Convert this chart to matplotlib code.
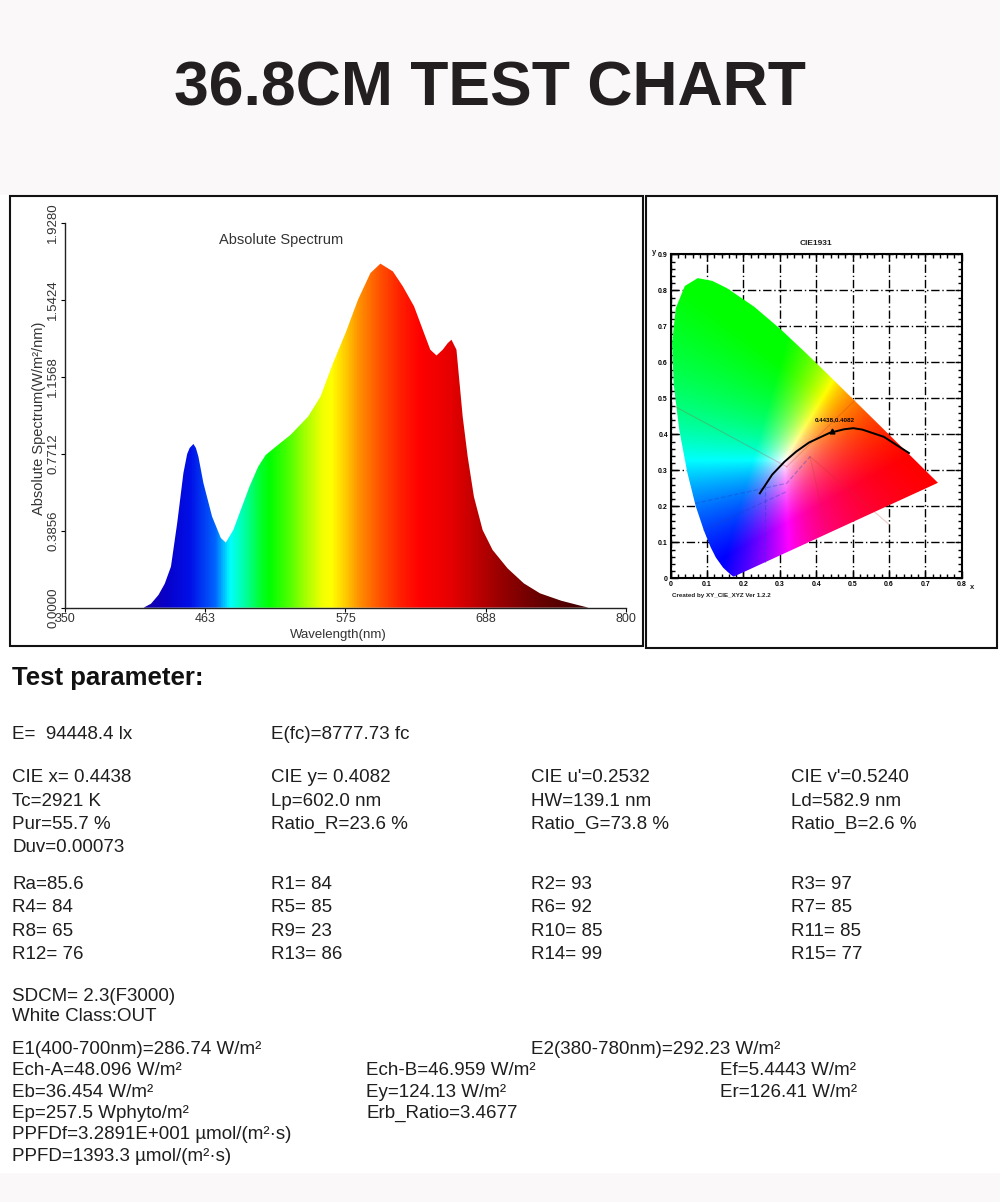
import numpy as np
import matplotlib
matplotlib.use('Agg')
import matplotlib.pyplot as plt
from matplotlib.patches import Rectangle, Polygon
from matplotlib.colors import LinearSegmentedColormap
from matplotlib.ticker import MultipleLocator

plt.rcParams['font.family'] = ['Liberation Sans', 'DejaVu Sans']

W, H = 1000, 1202
INK = '#1e1e1e'

# ---- spectrum ----
wavelength = [413, 419, 425, 430, 435, 440, 445, 448, 450, 453, 455, 457, 461, 468, 475,
              479, 485, 491, 498, 505, 511, 521, 531, 545, 555, 565, 575, 585, 595, 603,
              613, 621, 630, 638, 643, 648, 653, 657, 660, 664, 666, 669, 673, 678,
              685, 693, 705, 718, 731, 748, 761, 770]
intensity = [0.0, 0.02, 0.064, 0.12, 0.206, 0.424, 0.675, 0.77, 0.80, 0.82, 0.80, 0.757,
             0.625, 0.456, 0.349, 0.326, 0.389, 0.49, 0.607, 0.707, 0.765, 0.816, 0.866,
             0.957, 1.058, 1.225, 1.375, 1.542, 1.676, 1.723, 1.684, 1.609, 1.509,
             1.375, 1.292, 1.263, 1.292, 1.325, 1.342, 1.292, 1.158, 0.957, 0.757,
             0.556, 0.389, 0.289, 0.197, 0.122, 0.072, 0.035, 0.014, 0.0]
spec_xticks = [350, 462.5, 575, 687.5, 800]
spec_xlabels = ['350', '463', '575', '688', '800']
spec_yticks = [0.0, 0.3856, 0.7712, 1.1568, 1.5424, 1.9280]

# colour along the wavelength axis
spec_stops = [(350, '#200070'), (413, '#1400a8'), (430, '#0800c8'), (450, '#0010e8'),
              (470, '#0064ff'), (482, '#00ffff'), (495, '#00ff9a'), (506, '#00ff30'),
              (514, '#00ff00'), (530, '#50ff00'), (542, '#a0ff00'), (556, '#f0ff00'),
              (564, '#ffff00'), (574, '#ffd000'), (586, '#ff9000'), (603, '#ff5000'),
              (619, '#ff2000'), (635, '#ff0000'), (660, '#e60000'), (680, '#c00000'),
              (700, '#980000'), (725, '#700000'), (760, '#480000'), (800, '#300000')]

# ---- chromaticity diagram ----
locus_x = [0.1741, 0.1714, 0.1644, 0.1566, 0.1440, 0.1241, 0.1096, 0.0913, 0.0687,
           0.0454, 0.0235, 0.0082, 0.0039, 0.0139, 0.0389, 0.0743, 0.1142, 0.1547,
           0.2296, 0.3016, 0.3731, 0.4441, 0.5125, 0.5752, 0.6270, 0.6658, 0.6915,
           0.7190, 0.7300, 0.7347]
locus_y = [0.0050, 0.0051, 0.0109, 0.0177, 0.0297, 0.0578, 0.0868, 0.1327, 0.2007,
           0.2950, 0.4127, 0.5384, 0.6548, 0.7502, 0.8120, 0.8338, 0.8262, 0.8059,
           0.7543, 0.6923, 0.6245, 0.5547, 0.4866, 0.4242, 0.3725, 0.3340, 0.3083,
           0.2809, 0.2700, 0.2653]
planck_x = [0.245, 0.279, 0.313, 0.345, 0.380, 0.437, 0.477, 0.502, 0.527, 0.586, 0.655]
planck_y = [0.236, 0.288, 0.324, 0.352, 0.377, 0.404, 0.414, 0.417, 0.413, 0.393, 0.348]
point_xy = (0.4438, 0.4082)
blue_lines = [([0.067, 0.319, 0.383], [0.208, 0.264, 0.338]),
              ([0.090, 0.319], [0.134, 0.241]),
              ([0.259, 0.259], [0.259, 0.042])]
pale_lines = [([0.012, 0.319], [0.477, 0.310]),
              ([0.319, 0.507], [0.310, 0.495]),
              ([0.383, 0.430], [0.338, 0.130]),
              ([0.383, 0.600], [0.338, 0.150])]
cie_ticks_x = [0, 0.1, 0.2, 0.3, 0.4, 0.5, 0.6, 0.7, 0.8]
cie_ticks_y = [0, 0.1, 0.2, 0.3, 0.4, 0.5, 0.6, 0.7, 0.8, 0.9]

# ---- test parameters ----
row_e = ['E=  94448.4 lx', 'E(fc)=8777.73 fc']
color_rows = [['CIE x= 0.4438', 'CIE y= 0.4082', "CIE u'=0.2532", "CIE v'=0.5240"],
              ['Tc=2921 K', 'Lp=602.0 nm', 'HW=139.1 nm', 'Ld=582.9 nm'],
              ['Pur=55.7 %', 'Ratio_R=23.6 %', 'Ratio_G=73.8 %', 'Ratio_B=2.6 %'],
              ['Duv=0.00073']]
render_rows = [['Ra=85.6', 'R1= 84', 'R2= 93', 'R3= 97'],
               ['R4= 84', 'R5= 85', 'R6= 92', 'R7= 85'],
               ['R8= 65', 'R9= 23', 'R10= 85', 'R11= 85'],
               ['R12= 76', 'R13= 86', 'R14= 99', 'R15= 77']]
sdcm_rows = ['SDCM= 2.3(F3000)', 'White Class:OUT']
energy_rows = [[('E1(400-700nm)=286.74 W/m²', 12), ('E2(380-780nm)=292.23 W/m²', 531)],
               [('Ech-A=48.096 W/m²', 12), ('Ech-B=46.959 W/m²', 366), ('Ef=5.4443 W/m²', 720)],
               [('Eb=36.454 W/m²', 12), ('Ey=124.13 W/m²', 366), ('Er=126.41 W/m²', 720)],
               [('Ep=257.5 Wphyto/m²', 12), ('Erb_Ratio=3.4677', 366)],
               [('PPFDf=3.2891E+001 µmol/(m²·s)', 12)],
               [('PPFD=1393.3 µmol/(m²·s)', 12)]]


def px_rect(l, t, r, b):
    return [l / W, 1 - b / H, (r - l) / W, (b - t) / H]


def put(x, y, s, **kw):
    opts = dict(ha='left', va='baseline', fontsize=13.5, color=INK)
    opts.update(kw)
    return fig.text(x / W, 1 - y / H, s, **opts)


fig = plt.figure(figsize=(W / 100, H / 100), dpi=100)
fig.patch.set_facecolor('#faf8f8')
fig.add_artist(Rectangle((0, 1 - 1173 / H), 1, (1173 - 195) / H, transform=fig.transFigure,
                         facecolor='white', edgecolor='none', zorder=0))
for l, t, r, b in [(10, 196, 643, 646), (646, 196, 997, 648)]:
    fig.add_artist(Rectangle((l / W, 1 - b / H), (r - l) / W, (b - t) / H,
                             transform=fig.transFigure, fill=False,
                             edgecolor='#111111', linewidth=1.5, zorder=5))

put(490, 106, '36.8CM TEST CHART', ha='center', fontsize=45, fontweight='bold', color='#231f20')

# ---- spectrum panel ----
ax = fig.add_axes(px_rect(65, 222.7, 626, 607.7))
ax.patch.set_alpha(0)
ax.set_xlim(350, 800)
ax.set_ylim(0, 1.928)
stops = [((w - 350) / 450, c) for w, c in spec_stops]
spec_cmap = LinearSegmentedColormap.from_list('spec', stops)
grad = np.linspace(350, 800, 900).reshape(1, -1)
im = ax.imshow(grad, extent=[350, 800, 0, 1.928], aspect='auto', origin='lower',
               cmap=spec_cmap, vmin=350, vmax=800, interpolation='bilinear')
verts = list(zip(wavelength, intensity)) + [(wavelength[-1], 0), (wavelength[0], 0)]
shape = Polygon(verts, closed=True, transform=ax.transData, facecolor='none', edgecolor='none')
ax.add_patch(shape)
im.set_clip_path(shape)
for s in ['top', 'right']:
    ax.spines[s].set_visible(False)
for s in ['left', 'bottom']:
    ax.spines[s].set_linewidth(1.0)
    ax.spines[s].set_color('#222222')
ax.set_xticks(spec_xticks)
ax.set_xticklabels(spec_xlabels, fontsize=9, color='#333333')
ax.set_yticks(spec_yticks)
ax.set_yticklabels(['%.4f' % v for v in spec_yticks], rotation=90, va='center',
                   fontsize=9.5, color='#333333')
ax.tick_params(length=3, width=0.8, pad=1)
put(281, 244, 'Absolute Spectrum', ha='center', fontsize=10.5, color='#333333')
fig.text(39.5 / W, 1 - 418 / H, 'Absolute Spectrum(W/m²/nm)', rotation=90, ha='center',
         va='center', fontsize=10.5, color='#333333')
put(338, 638, 'Wavelength(nm)', ha='center', fontsize=9.5, color='#333333')

# ---- CIE panel ----
cx = fig.add_axes(px_rect(670.7, 254.3, 961.7, 578.3))
cx.set_xlim(0, 0.8)
cx.set_ylim(0, 0.9)
gx, gy = np.meshgrid(np.linspace(0.0005, 0.8, 480), np.linspace(0.002, 0.9, 540))
X = gx / gy
Z = (1 - gx - gy) / gy
R = 3.2406 * X - 1.5372 - 0.4986 * Z
G = -0.9689 * X + 1.8758 + 0.0415 * Z
B = 0.0557 * X - 0.2040 + 1.0570 * Z
rgb = np.clip(np.dstack([R, G, B]), 0, None)
rgb = rgb / rgb.max(axis=2, keepdims=True)
img = cx.imshow(rgb, extent=[0, 0.8, 0.002, 0.9], origin='lower', aspect='auto',
                interpolation='bilinear', zorder=1)
horse = Polygon(list(zip(locus_x, locus_y)), closed=True, transform=cx.transData,
                facecolor='none', edgecolor='none')
cx.add_patch(horse)
img.set_clip_path(horse)
for lx, ly in pale_lines:
    cx.plot(lx, ly, color='#c03030', lw=0.8, alpha=0.25, zorder=2)
for lx, ly in blue_lines:
    cx.plot(lx, ly, color='#2040c0', lw=0.9, ls='--', alpha=0.35, zorder=2)
cx.plot(planck_x, planck_y, color='black', lw=1.4, zorder=3)
cx.plot([point_xy[0]], [point_xy[1]], marker='^', ms=3.5, color='black', zorder=4)
cx.text(0.45, 0.44, '%.4f,%.4f' % point_xy, ha='center', va='center', fontsize=4.5,
        fontweight='bold', zorder=4)
cx.set_axisbelow(True)
cx.grid(True, which='major', color='black', lw=1.0, ls=(0, (6, 2, 1, 2)))
cx.set_xticks(cie_ticks_x)
cx.set_xticklabels(['0' if v == 0 else '%.1f' % v for v in cie_ticks_x],
                   fontsize=5, fontweight='bold')
cx.set_yticks(cie_ticks_y)
cx.set_yticklabels(['0' if v == 0 else '%.1f' % v for v in cie_ticks_y],
                   fontsize=5, fontweight='bold')
cx.xaxis.set_minor_locator(MultipleLocator(0.02))
cx.yaxis.set_minor_locator(MultipleLocator(0.02))
cx.tick_params(which='both', direction='in', top=True, right=True, width=1.0, pad=2)
cx.tick_params(which='major', length=5)
cx.tick_params(which='minor', length=3)
for s in cx.spines.values():
    s.set_linewidth(1.5)
put(652, 254, 'y', fontsize=5.5, fontweight='bold')
put(970, 589, 'x', fontsize=5.5, fontweight='bold')
put(816, 245, 'CIE1931', ha='center', fontsize=6, fontweight='bold')
put(672, 597, 'Created by XY_CIE_XYZ Ver 1.2.2', fontsize=4.5, fontweight='bold')

# ---- test parameter block ----
cols = [12, 271, 531, 791]
put(12, 685, 'Test parameter:', fontsize=18.5, fontweight='bold', color='#111111')
for i, s in enumerate(row_e):
    put(cols[i], 739, s)
for r, row in enumerate(color_rows):
    for i, s in enumerate(row):
        put(cols[i], 782.3 + r * 23.4, s)
for r, row in enumerate(render_rows):
    for i, s in enumerate(row):
        put(cols[i], 889 + r * 23.4, s)
for r, s in enumerate(sdcm_rows):
    put(12, 1000.6 + r * 20.5, s)
for r, row in enumerate(energy_rows):
    for s, x in row:
        put(x, 1054 + r * 21.35, s)

fig.savefig('out.png', dpi=100, facecolor=fig.get_facecolor())
